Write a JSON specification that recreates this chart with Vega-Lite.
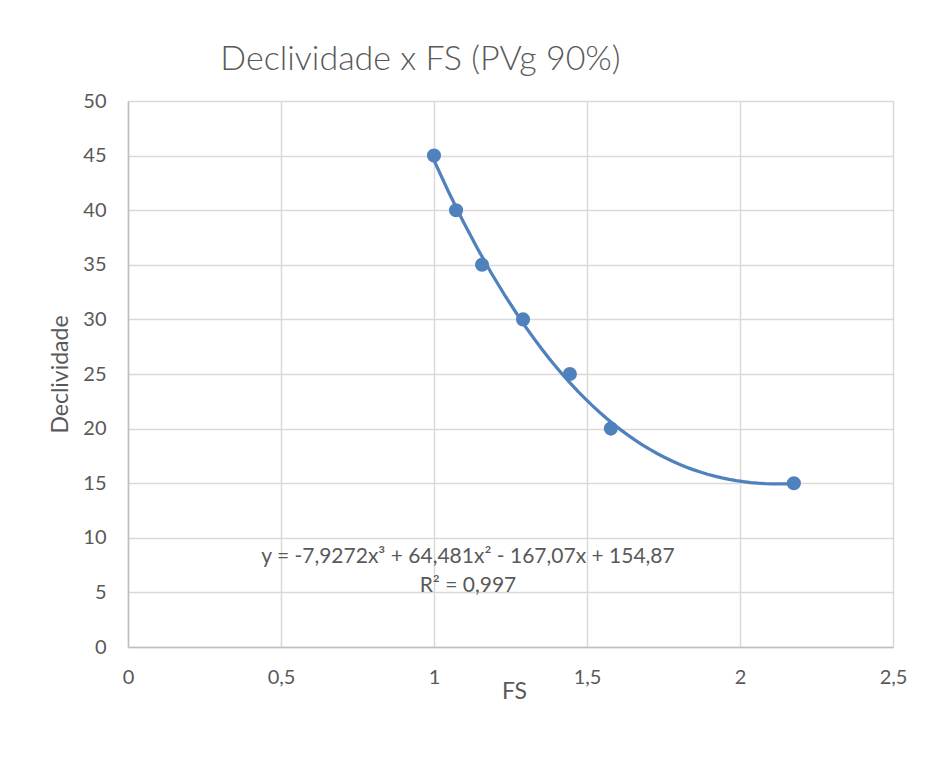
{
  "$schema": "https://vega.github.io/schema/vega-lite/v6.json",
  "autosize": {"type": "none"},
  "width": 765,
  "height": 546,
  "padding": {"left": 128, "top": 101, "right": 35, "bottom": 113},
  "background": "white",
  "title": {
    "text": "Declividade x FS (PVg 90%)",
    "font": "Lato",
    "fontSize": 34,
    "fontWeight": 300,
    "color": "#595959",
    "anchor": "middle",
    "dx": -90,
    "offset": 14
  },
  "datasets": {
    "pontos": [
      {"FS": 1.0, "Declividade": 45},
      {"FS": 1.072, "Declividade": 40},
      {"FS": 1.157, "Declividade": 35},
      {"FS": 1.291, "Declividade": 30},
      {"FS": 1.444, "Declividade": 25},
      {"FS": 1.578, "Declividade": 20},
      {"FS": 2.176, "Declividade": 15}
    ],
    "equacao": [
      {"FS": 1.111, "Declividade": 8.2, "texto": "y = -7,9272x³ + 64,481x² - 167,07x + 154,87"},
      {"FS": 1.111, "Declividade": 5.55, "texto": "R² = 0,997"}
    ]
  },
  "config": {
    "view": {"stroke": null},
    "font": "Lato",
    "axis": {
      "gridColor": "#d9d9d9",
      "gridWidth": 1.5,
      "domainColor": "#bfbfbf",
      "domainWidth": 1.5,
      "ticks": false,
      "labelFont": "Lato",
      "labelFontSize": 20,
      "labelColor": "#595959",
      "labelFlush": false,
      "titleFont": "Lato",
      "titleFontSize": 23,
      "titleFontWeight": "normal",
      "titleColor": "#595959"
    }
  },
  "layer": [
    {
      "data": {"name": "pontos"},
      "transform": [
        {"regression": "Declividade", "on": "FS", "method": "poly", "order": 3}
      ],
      "mark": {"type": "line", "color": "#4F81BD", "strokeWidth": 3.25},
      "encoding": {
        "x": {
          "field": "FS",
          "type": "quantitative",
          "scale": {"domain": [0, 2.5], "nice": false},
          "axis": {
            "title": "FS",
            "values": [0, 0.5, 1, 1.5, 2, 2.5],
            "labelExpr": "replace(format(datum.value, '~g'), '.', ',')",
            "labelPadding": 20,
            "titleY": 44,
            "titleX": 386,
            "titleBaseline": "middle"
          }
        },
        "y": {
          "field": "Declividade",
          "type": "quantitative",
          "scale": {"domain": [0, 50], "nice": false},
          "axis": {
            "title": "Declividade",
            "values": [0, 5, 10, 15, 20, 25, 30, 35, 40, 45, 50],
            "labelPadding": 22,
            "titlePadding": 10
          }
        }
      }
    },
    {
      "data": {"name": "pontos"},
      "mark": {"type": "point", "filled": true, "opacity": 1, "color": "#4F81BD", "size": 200},
      "encoding": {
        "x": {"field": "FS", "type": "quantitative"},
        "y": {"field": "Declividade", "type": "quantitative"}
      }
    },
    {
      "data": {"name": "equacao"},
      "mark": {"type": "text", "font": "Lato", "fontSize": 21, "color": "#595959", "align": "center", "baseline": "middle"},
      "encoding": {
        "x": {"field": "FS", "type": "quantitative"},
        "y": {"field": "Declividade", "type": "quantitative"},
        "text": {"field": "texto"}
      }
    }
  ]
}
